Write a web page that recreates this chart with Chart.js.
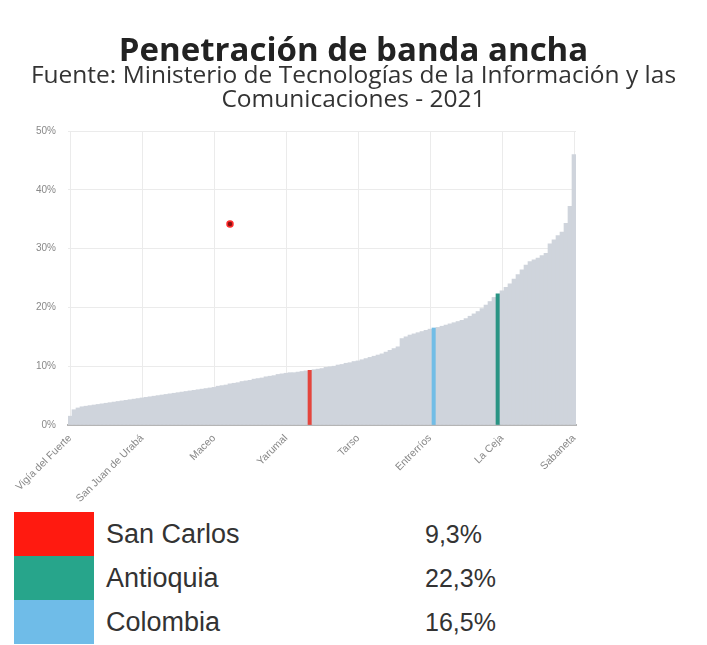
<!DOCTYPE html>
<html>
<head>
<meta charset="utf-8">
<script src="https://cdn.jsdelivr.net/npm/chart.js@4"></script>
<style>
  html, body { margin: 0; padding: 0; background: #fff; width: 707px; height: 645px; overflow: hidden; }
  #wrap { position: absolute; left: 0; top: 0; width: 707px; height: 510px; }
  #legend { position: absolute; left: 14px; top: 512px; font-family: 'Liberation Sans', Arial, sans-serif; color: #333; }
  .row { position: relative; height: 44px; width: 600px; }
  .sw { position: absolute; left: 0; top: 0; width: 80px; height: 44px; }
  .lab { position: absolute; left: 92px; top: 0; line-height: 44px; font-size: 27px; }
  .val { position: absolute; left: 411px; top: 0; line-height: 44px; font-size: 25px; }
</style>
</head>
<body>
<div id="wrap"><canvas id="c" width="707" height="510"></canvas></div>
<div id="legend"></div>
<script>
const categories = [
  'Vigía del Fuerte','Murindó','Peque','Briceño','Ituango','Anorí','Nechí','Cáceres','Tarazá','El Bagre',
  'Zaragoza','Necoclí','Arboletes','San Pedro de Urabá','Mutatá','Dabeiba','Uramita','Frontino','San Juan de Urabá','Turbo',
  'Valdivia','Segovia','Remedios','Yondó','San Francisco','Argelia','Nariño','Caicedo','Buriticá','Cañasgordas',
  'Abriaquí','Giraldo','Toledo','San Andrés de Cuerquia','Sabanalarga','Liborina','Maceo','Anzá','Betulia','Salgar',
  'Caracolí','Vegachí','Yalí','Yolombó','Campamento','Angostura','Guadalupe','Olaya','Heliconia','Armenia',
  'Ebéjico','Concordia','Caramanta','Valparaíso','Yarumal','Montebello','Abejorral','Alejandría','San Luis','Cocorná',
  'San Carlos','Puerto Nare','Puerto Berrío','Chigorodó','Carepa','Apartadó','Caucasia','Pueblorrico','Betania','Hispania',
  'Titiribí','Angelópolis','Tarso','Santo Domingo','Concepción','San Roque','San Rafael','Sonsón','Urrao','Ciudad Bolívar',
  'Andes','Jardín','Jericó','Támesis','Fredonia','Venecia','Amalfi','Cisneros','Gómez Plata','Carolina del Príncipe',
  'Entrerríos','Colombia','Belmira','San José de la Montaña','Santa Rosa de Osos','Donmatías','San Pedro de los Milagros','Sopetrán','San Jerónimo','Santa Fe de Antioquia',
  'Amagá','Santa Bárbara','La Pintada','Puerto Triunfo','Granada','San Vicente Ferrer','La Unión','Antioquia','La Ceja','Guatapé',
  'El Peñol','El Santuario','Marinilla','El Carmen de Viboral','Barbosa','Girardota','Guarne','Copacabana','Caldas','El Retiro',
  'La Estrella','Bello','Itagüí','Rionegro','Medellín','Envigado','Sabaneta'
];

const penetration = [
  1.5,
  2.6,2.9,3.1,3.2,3.3,3.4,3.5,3.6,3.7,3.8,3.9,4.0,4.1,4.2,4.3,4.4,4.5,4.6,
  4.7,4.8,4.9,5.0,5.1,5.2,5.3,5.4,5.5,5.6,5.7,5.8,5.9,6.0,6.1,6.2,6.3,6.4,
  6.6,6.7,6.8,7.0,7.1,7.2,7.4,7.5,7.6,7.8,7.9,8.0,8.2,8.3,8.4,8.6,8.7,8.8,
  8.9,8.9,9.0,9.1,9.2,9.3,
  9.4,9.5,9.6,9.8,9.9,10.0,10.2,10.3,10.5,10.6,10.8,10.9,
  11.1,11.3,11.5,11.7,11.9,12.1,12.4,12.7,13.0,13.3,
  14.7,15.0,15.3,15.5,15.7,15.9,16.1,16.3,16.5,
  16.6,16.8,17.0,17.2,17.4,17.6,17.8,18.1,18.5,18.9,19.3,19.8,20.4,21.0,21.7,22.3,
  22.8,23.4,24.0,24.8,25.6,26.4,27.2,27.8,28.1,28.4,28.8,29.2,30.8,31.5,32.2,32.8,34.3,37.2,46.0
];

const tickLabels = ['Vigía del Fuerte','San Juan de Urabá','Maceo','Yarumal','Tarso','Entrerríos','La Ceja','Sabaneta'];
const yTicks = [0, 10, 20, 30, 40, 50];

const highlightNames = ['San Carlos', 'Antioquia', 'Colombia'];
const highlightValues = ['9,3%', '22,3%', '16,5%'];
const highlightBarColors = ['#e4453d', '#2a9484', '#72bde6'];
const highlightLegendColors = ['#ff1a10', '#27a58b', '#6fbce8'];
const baseColor = '#cfd4dc';

const markerLabel = 'Caracolí';
const markerValue = 34.2;

const barColors = categories.map(c => {
  const k = highlightNames.indexOf(c);
  return k >= 0 ? highlightBarColors[k] : baseColor;
});

new Chart(document.getElementById('c'), {
  data: {
    labels: categories,
    datasets: [
      {
        type: 'line',
        data: [{ x: markerLabel, y: markerValue }],
        showLine: false,
        pointRadius: 3,
        pointBackgroundColor: '#8a1010',
        pointBorderColor: '#ff2a2a',
        pointBorderWidth: 1.5,
        order: 0
      },
      {
        type: 'bar',
        data: penetration,
        backgroundColor: barColors,
        borderWidth: 0,
        barPercentage: 1,
        categoryPercentage: 1,
        order: 1
      }
    ]
  },
  options: {
    responsive: false,
    animation: false,
    events: [],
    layout: { padding: 0 },
    plugins: {
      legend: { display: false },
      tooltip: { enabled: false },
      title: {
        display: true,
        text: 'Penetración de banda ancha',
        color: '#222',
        font: { family: 'Open Sans', size: 33, weight: 'bold', lineHeight: 0.8 },
        padding: { top: 38, bottom: 0 }
      },
      subtitle: {
        display: true,
        text: ['Fuente: Ministerio de Tecnologías de la Información y las', 'Comunicaciones - 2021'],
        color: '#333',
        font: { family: 'Open Sans', size: 24.5, lineHeight: 0.98 },
        padding: { top: 0, bottom: 18.6 }
      }
    },
    scales: {
      x: {
        type: 'category',
        afterFit: s => { s.height = 85; },
        grid: { offset: false, color: '#ebebeb', drawTicks: false },
        border: { display: true, color: '#b5b5b5', width: 2 },
        ticks: {
          autoSkip: false,
          maxRotation: 45,
          minRotation: 45,
          padding: 7,
          color: '#888',
          font: { family: 'Liberation Sans', size: 10.5 },
          callback: function (v, i) {
            const name = categories[i];
            return tickLabels.includes(name) ? name : null;
          }
        }
      },
      y: {
        min: 0,
        max: 50,
        afterFit: s => { s.width = 68; },
        afterBuildTicks: s => { s.ticks = yTicks.map(v => ({ value: v })); },
        grid: { color: '#ebebeb', drawTicks: false },
        border: { display: false },
        ticks: {
          padding: 12,
          color: '#888',
          font: { family: 'Liberation Sans', size: 10 },
          callback: v => v + '%'
        }
      },
      spacer: {
        type: 'linear',
        position: 'right',
        display: true,
        afterFit: s => { s.width = 131; },
        grid: { display: false, drawTicks: false },
        border: { display: false },
        ticks: { display: false }
      }
    }
  }
});

const legend = document.getElementById('legend');
highlightNames.forEach((n, k) => {
  const row = document.createElement('div');
  row.className = 'row';
  row.innerHTML = '<div class="sw" style="background:' + highlightLegendColors[k] + '"></div>' +
    '<div class="lab">' + n + '</div><div class="val">' + highlightValues[k] + '</div>';
  legend.appendChild(row);
});
</script>
</body>
</html>
